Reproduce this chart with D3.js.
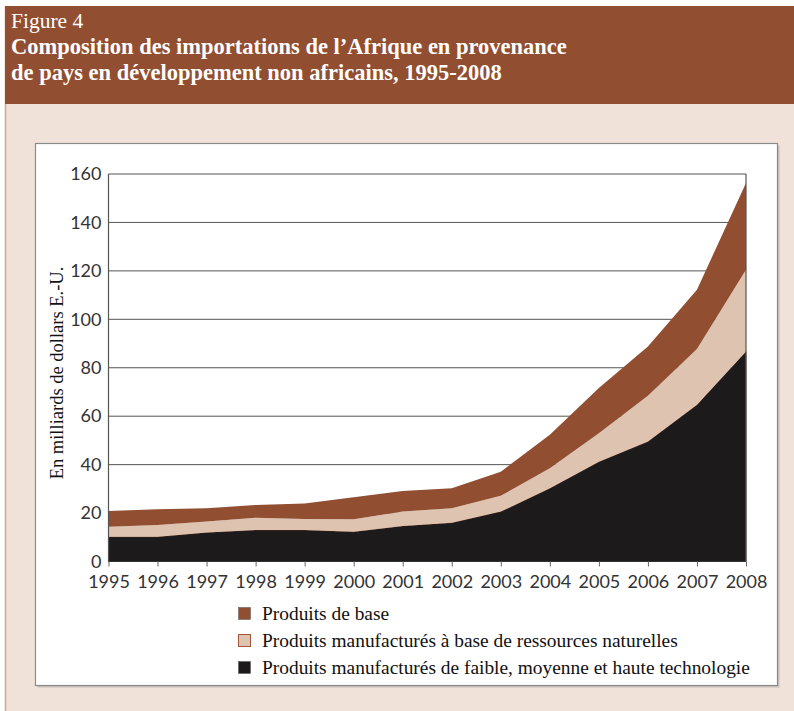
<!DOCTYPE html>
<html><head><meta charset="utf-8">
<script src="https://cdn.jsdelivr.net/npm/d3@7"></script>
<style>body{margin:0;background:#fff;}svg{display:block;}</style>
</head><body>
<svg id="c" width="794" height="711"></svg>
<script>
const years = [1995,1996,1997,1998,1999,2000,2001,2002,2003,2004,2005,2006,2007,2008];
const techno = [10.2,10.2,12.0,13.0,13.0,12.3,14.7,16.0,20.6,30.2,41.2,49.5,64.7,86.7];
const ressources = [4.2,4.9,4.5,5.1,4.6,5.1,5.9,6.0,6.5,8.3,11.8,18.9,23.0,33.8];
const base = [6.5,6.5,5.5,5.2,6.4,9.1,8.5,8.2,10.0,13.8,18.6,20.4,24.5,35.8];
const yTicks = [0,20,40,60,80,100,120,140,160];
const seriesNames = ["Produits manufacturés de faible, moyenne et haute technologie","Produits manufacturés à base de ressources naturelles","Produits de base"];
const legendOrder = ["Produits de base","Produits manufacturés à base de ressources naturelles","Produits manufacturés de faible, moyenne et haute technologie"];
const colors = {"Produits de base":"#914e30","Produits manufacturés à base de ressources naturelles":"#dfc3b1","Produits manufacturés de faible, moyenne et haute technologie":"#1c1a1b"};

const svg = d3.select("#c");
svg.append("rect").attr("x",5).attr("y",6).attr("width",789).attr("height",705).attr("fill","#f0e2d9");
svg.append("line").attr("x1",5.5).attr("x2",5.5).attr("y1",6).attr("y2",711).attr("stroke","#d8a488").attr("stroke-width",1.5);
svg.append("rect").attr("x",5).attr("y",6).attr("width",789).attr("height",98).attr("fill","#914e30");
const serif = "'Liberation Serif','Times New Roman',serif";
svg.append("text").attr("x",11).attr("y",28).attr("font-family",serif).attr("font-size",21.5).attr("fill","#fff").text("Figure 4");
svg.append("text").attr("x",11).attr("y",54).attr("font-family",serif).attr("font-size",22.5).attr("font-weight","bold").attr("fill","#fff").text("Composition des importations de l’Afrique en provenance");
svg.append("text").attr("x",11).attr("y",80).attr("font-family",serif).attr("font-size",22.5).attr("font-weight","bold").attr("fill","#fff").text("de pays en développement non africains, 1995-2008");

svg.append("rect").attr("x",37.5).attr("y",145.5).attr("width",742).attr("height",542).attr("fill","#c8c0bb");
svg.append("rect").attr("x",35.5).attr("y",143.5).attr("width",742).attr("height",542).attr("fill","#fff").attr("stroke","#8a8a8a").attr("stroke-width",1.2);

const x = d3.scaleLinear().domain([1995,2008]).range([108.5,746]);
const y = d3.scaleLinear().domain([0,160]).range([561.5,174]);

const g = svg.append("g");
g.selectAll("line.grid").data(yTicks.filter(d=>d>0)).join("line")
 .attr("x1",x(1995)).attr("x2",x(2008)).attr("y1",d=>y(d)).attr("y2",d=>y(d))
 .attr("stroke","#555").attr("stroke-width",1);

const table = years.map((yr,i)=>({year:yr,
  [seriesNames[0]]:techno[i],[seriesNames[1]]:ressources[i],[seriesNames[2]]:base[i]}));
const stack = d3.stack().keys(seriesNames)(table);
const area = d3.area().x(d=>x(d.data.year)).y0(d=>y(d[0])).y1(d=>y(d[1]));
g.selectAll("path.area").data(stack).join("path")
 .attr("d",area).attr("fill",d=>colors[d.key])
 .attr("stroke",d=>d.key===seriesNames[0]?"#5a2e1c":"none").attr("stroke-width",0.8);

g.append("line").attr("x1",x(1995)).attr("x2",x(1995)).attr("y1",y(160)).attr("y2",y(0)).attr("stroke","#555").attr("stroke-width",1.2);
g.append("line").attr("x1",x(2008)).attr("x2",x(2008)).attr("y1",y(160)).attr("y2",y(0)).attr("stroke","#555").attr("stroke-width",1.2);
g.append("line").attr("x1",x(1995)).attr("x2",x(2008)).attr("y1",y(0)).attr("y2",y(0)).attr("stroke","#333").attr("stroke-width",1.2);

const sans = "Lato,'Open Sans','DejaVu Sans',sans-serif";
const yAxis = d3.axisLeft(y).tickValues(yTicks).tickSize(0).tickPadding(7);
const ya = svg.append("g").attr("transform",`translate(${x(1995)},0)`).call(yAxis);
ya.select(".domain").remove();
ya.selectAll("text").attr("font-family",sans).attr("font-size",18).attr("fill","#333");

const xAxis = d3.axisBottom(x).tickValues(years).tickFormat(d3.format("d")).tickSize(5).tickPadding(9);
const xa = svg.append("g").attr("transform",`translate(0,${y(0)})`).call(xAxis);
xa.select(".domain").remove();
xa.selectAll("line").attr("stroke","#666");
xa.selectAll("text").attr("font-family",sans).attr("font-size",18).attr("fill","#333");

svg.append("text").attr("transform","translate(63,373) rotate(-90)").attr("text-anchor","middle")
 .attr("font-family",serif).attr("font-size",18.5).attr("fill","#111").text("En milliards de dollars E.-U.");

const lg = svg.append("g");
legendOrder.forEach((k,i)=>{
  const yy = 607 + i*27;
  lg.append("rect").attr("x",238.5).attr("y",yy+0.5).attr("width",12).attr("height",12)
    .attr("fill",colors[k]).attr("stroke",i===1?"#a0553a":"#555").attr("stroke-width",i===1?1:0.5);
  lg.append("text").attr("x",262).attr("y",yy+13).attr("font-family",serif).attr("font-size",19.4).attr("fill","#111").text(k);
});
</script>
</body></html>
